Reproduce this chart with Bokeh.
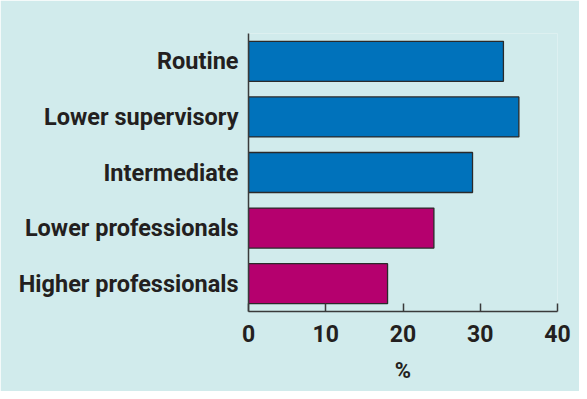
from bokeh.plotting import figure
from bokeh.models import FactorRange, Range1d, ColumnDataSource, FixedTicker
from bokeh.embed import file_html
from bokeh.resources import INLINE

categories = ["Higher professionals", "Lower professionals", "Intermediate",
              "Lower supervisory", "Routine"]
values = [18, 24, 29, 35, 33]
colors = ["#B5006E", "#B5006E", "#0072BB", "#0072BB", "#0072BB"]
x_ticks = [0, 10, 20, 30, 40]

src = ColumnDataSource(dict(cat=categories, val=values, color=colors))

p = figure(width=579, height=391, output_backend="svg", toolbar_location=None,
           y_range=FactorRange(*categories, range_padding=0),
           x_range=Range1d(0, 40))
p.min_border_left = 248
p.min_border_right = 22
p.min_border_top = 33
p.min_border_bottom = 80

bg = "#D1EBEC"
p.background_fill_color = bg
p.border_fill_color = bg
p.outline_line_color = None
p.grid.visible = False

p.hbar(y="cat", right="val", left=0, height=0.72, source=src,
       fill_color="color", line_color="#2a2a2a", line_width=1.3)

font = "Roboto"
tc = "#231F20"

xa = p.xaxis[0]
xa.ticker = FixedTicker(ticks=x_ticks)
xa.axis_label = "%"
xa.axis_label_text_font = font
xa.axis_label_text_font_style = "bold"
xa.axis_label_text_font_size = "22px"
xa.axis_label_text_color = tc
xa.axis_label_standoff = 13
xa.major_label_text_font = font
xa.major_label_text_font_style = "bold"
xa.major_label_text_font_size = "23px"
xa.major_label_text_color = tc
xa.major_label_standoff = 13
xa.major_tick_in = 8
xa.major_tick_out = 0
xa.minor_tick_line_color = None
xa.axis_line_color = "#3a3a3a"
xa.major_tick_line_color = "#3a3a3a"
xa.axis_line_width = 1.5
xa.major_tick_line_width = 1.5

ya = p.yaxis[0]
ya.major_label_text_font = font
ya.major_label_text_font_style = "bold"
ya.major_label_text_font_size = "23.5px"
ya.major_label_text_color = tc
ya.major_label_standoff = 10
ya.major_tick_line_color = None
ya.major_tick_out = 0
ya.major_tick_in = 0
ya.axis_line_color = "#3a3a3a"
ya.axis_line_width = 1.5

open("out.html", "w").write(file_html(p, INLINE))
